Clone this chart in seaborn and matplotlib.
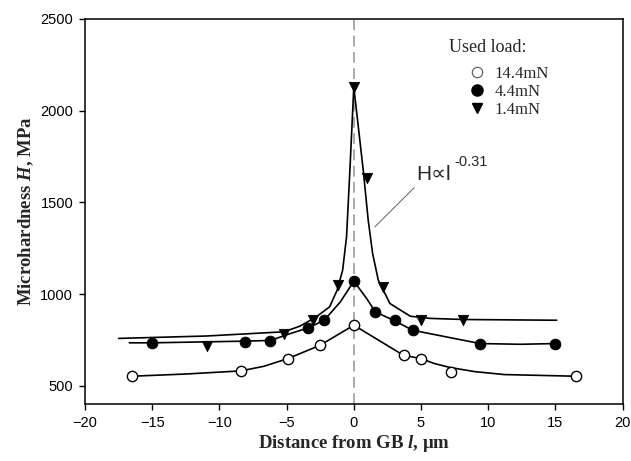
import numpy as np
import pandas as pd
import matplotlib
matplotlib.use("Agg")
import matplotlib.pyplot as plt
from matplotlib.lines import Line2D
import seaborn as sns

# measured points (distance from GB in um, microhardness in MPa)
x_14 = [-16.5, -8.4, -4.9, -2.5, 0.0, 3.7, 5.0, 7.2, 16.5]
h_14 = [553, 582, 649, 722, 831, 667, 649, 576, 553]
x_44 = [-15.0, -8.1, -6.2, -3.4, -2.2, 0.0, 1.6, 3.1, 4.4, 9.4, 15.0]
h_44 = [735, 740, 744, 816, 858, 1071, 904, 862, 804, 727, 731]
x_14n = [-10.9, -5.2, -3.0, -1.2, 0.0, 0.95, 2.2, 5.0, 8.1]
h_14n = [717, 782, 858, 1049, 2129, 1633, 1040, 858, 858]

# fitted curves
cx_14 = [-16.5, -12.5, -8.4, -6.7, -4.9, -2.5, 0.0, 3.7, 5.0, 6.0, 7.2, 9.0, 11.2, 16.5]
ch_14 = [553, 565, 582, 607, 649, 722, 831, 667, 649, 622, 600, 578, 562, 553]
cx_44 = [-16.7, -15.0, -8.2, -6.2, -4.7, -3.4, -2.2, -1.0, 0.0, 0.95, 1.6, 3.2, 4.35,
         7.45, 9.4, 12.4, 15.0]
ch_44 = [735, 735, 744, 748, 786, 816, 858, 958, 1071, 977, 904, 849, 804,
         759, 731, 727, 731]
cx_14n = [-17.5, -11.0, -5.2, -4.0, -2.8, -1.8, -1.24, -0.83, -0.54, -0.29, 0.0,
          0.7, 1.07, 1.4, 1.82, 2.69, 4.2, 5.7, 8.2, 15.1]
ch_14n = [759, 772, 795, 826, 876, 931, 1022, 1131, 1313, 1677, 2129,
          1677, 1404, 1222, 1077, 949, 880, 868, 862, 858]

loads = ["14.4mN", "4.4mN", "1.4mN"]

sns.set_theme(style="ticks")
plt.rcParams["font.family"] = ["Liberation Sans", "DejaVu Sans"]
plt.rcParams["mathtext.fontset"] = "custom"
plt.rcParams["mathtext.it"] = "Liberation Serif:italic:bold"
plt.rcParams["mathtext.rm"] = "Liberation Serif:bold"

fig = plt.figure(figsize=(6.31, 4.61), dpi=100)
ax = fig.add_axes([0.1347, 0.123, 0.852, 0.836])

ax.axvline(0, color="#a4a4a4", ls=(0, (6, 3)), lw=1.3, zorder=1)

for cx, ch in [(cx_14, ch_14), (cx_44, ch_44), (cx_14n, ch_14n)]:
    sns.lineplot(x=cx, y=ch, ax=ax, color="black", lw=1.2, sort=False, zorder=2)

sns.scatterplot(x=x_14, y=h_14, ax=ax, marker="o", s=55, facecolor="white",
                edgecolor="black", linewidth=1.0, zorder=3)
sns.scatterplot(x=x_44, y=h_44, ax=ax, marker="o", s=60, color="black",
                edgecolor="black", zorder=3)
sns.scatterplot(x=x_14n, y=h_14n, ax=ax, marker="v", s=55, color="black",
                edgecolor="black", zorder=3)

handles = [
    Line2D([], [], ls="none", marker="o", ms=7.5, mfc="white", mec="#555555", mew=0.8),
    Line2D([], [], ls="none", marker="o", ms=8, mfc="black", mec="black"),
    Line2D([], [], ls="none", marker="v", ms=7.5, mfc="black", mec="black"),
]
ax.legend(handles, loads, loc="upper left", bbox_to_anchor=(0.713, 0.878),
          frameon=False, prop={"family": "Liberation Serif", "size": 12},
          handlelength=1.0, handletextpad=0.55, labelspacing=0.12,
          borderpad=0, borderaxespad=0)
ax.text(0.677, 0.925, "Used load:", transform=ax.transAxes, va="center", ha="left",
        fontsize=13, family="Liberation Serif")

# power-law annotation
ax.text(4.67, 1622, "H\u221dl", fontsize=15, family=["Liberation Sans", "DejaVu Sans"])
ax.text(7.45, 1701, "-0.31", fontsize=10.5, family="Liberation Sans")
ax.plot([4.49, 1.57], [1580, 1367], color="#606060", lw=0.7)

ax.set_xlim(-20, 20)
ax.set_ylim(400, 2500)
ax.set_xticks(np.arange(-20, 21, 5))
ax.set_yticks(np.arange(500, 2501, 500))
ax.tick_params(direction="out", length=4.5, width=1, labelsize=10.5, colors="black", pad=4)
for s in ax.spines.values():
    s.set_color("black")
    s.set_linewidth(1.1)

ax.set_xlabel("Distance from GB $l$, \u03bcm", fontsize=13.5, fontweight="bold",
              family="Liberation Serif", labelpad=2)
ax.set_ylabel("Microhardness $H$, MPa", fontsize=13.5, fontweight="bold",
              family="Liberation Serif", labelpad=3)

fig.savefig("out.png", dpi=100)
